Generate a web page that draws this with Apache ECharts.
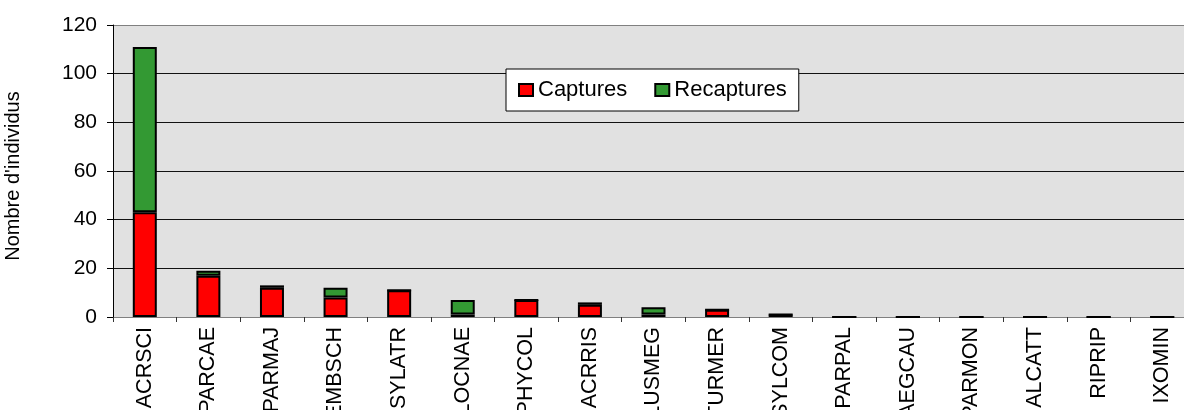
<!DOCTYPE html>
<html>
<head>
<meta charset="utf-8">
<script src="https://cdn.jsdelivr.net/npm/echarts@6/dist/echarts.min.js"></script>
<style>
html,body{margin:0;padding:0;background:#fff;}
#chart{width:1184px;height:410px;}
</style>
</head>
<body>
<div id="chart"></div>
<script>
var categories = ['ACRSCI','PARCAE','PARMAJ','EMBSCH','SYLATR','LOCNAE','PHYCOL','ACRRIS','LUSMEG','TURMER','SYLCOM','PARPAL','AEGCAU','PARMON','ALCATT','RIPRIP','IXOMIN'];
var captures   = [43, 17, 12, 8, 11, 1, 7, 5, 1, 3, 1, 0, 0, 0, 0, 0, 0];
var recaptures = [68, 2, 1, 4, 0, 6, 0, 1, 3, 0, 0, 0, 0, 0, 0, 0, 0];
var yTicks = [0, 20, 40, 60, 80, 100, 120];
var seriesNames = ['Captures', 'Recaptures'];
var yTitle = "Nombre d'individus";

var FONT = "'Liberation Sans', Arial, sans-serif";
var chart = echarts.init(document.getElementById('chart'), null, {renderer: 'canvas'});
chart.setOption({
  animation: false,
  backgroundColor: '#ffffff',
  textStyle: {fontFamily: FONT, color: '#000'},
  grid: {
    left: 113, top: 25, bottom: 93, right: -10,
    outerBoundsMode: 'none',
    containLabel: false,
    show: true, backgroundColor: '#e1e1e1', borderWidth: 0
  },
  legend: {
    left: 506, top: 69,
    padding: [10, 12, 10, 12],
    backgroundColor: '#ffffff',
    borderColor: '#000000', borderWidth: 1,
    itemWidth: 14, itemHeight: 12, itemGap: 27,
    icon: 'rect',
    textStyle: {fontFamily: FONT, fontSize: 22, color: '#000'},
    data: seriesNames
  },
  xAxis: {
    type: 'category',
    data: categories,
    axisLine: {show: true, lineStyle: {color: '#808080', width: 1}},
    axisTick: {show: true, length: 5, lineStyle: {color: '#333'}},
    axisLabel: {rotate: 90, margin: 10, fontSize: 21.5, color: '#000', fontFamily: FONT, interval: 0}
  },
  yAxis: {
    type: 'value',
    min: yTicks[0], max: yTicks[yTicks.length - 1], interval: 20,
    name: yTitle,
    nameLocation: 'middle',
    nameGap: 90,
    nameRotate: 90,
    nameTextStyle: {fontSize: 20, color: '#000', fontFamily: FONT, padding: [0, 10, 0, 0]},
    axisLine: {show: true, lineStyle: {color: '#000', width: 1}},
    axisTick: {show: true, length: 6, lineStyle: {color: '#000'}},
    axisLabel: {margin: 16, fontSize: 21, color: '#000', fontFamily: FONT},
    splitLine: {show: true, lineStyle: {color: ['#808080', '#111', '#111', '#111', '#111', '#111', '#808080'], width: 1}}
  },
  series: [
    {
      name: seriesNames[0], type: 'bar', stack: 'total',
      data: captures, barWidth: 24,
      itemStyle: {color: '#ff0000', borderColor: '#000', borderWidth: 2}
    },
    {
      name: seriesNames[1], type: 'bar', stack: 'total',
      data: recaptures, barWidth: 24,
      itemStyle: {color: '#339933', borderColor: '#000', borderWidth: 2}
    }
  ]
});
</script>
</body>
</html>
